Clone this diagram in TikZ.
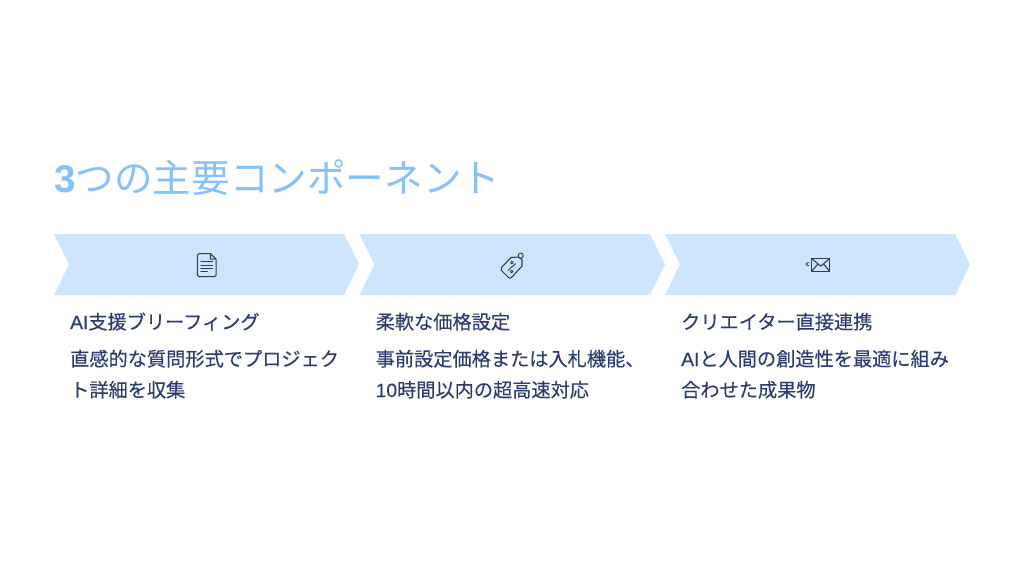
\documentclass[tikz,border=0pt]{standalone}
\usepackage{fontspec}
\setmainfont{Noto Sans CJK JP}[FakeBold=0.12]
\newfontfamily\latinfont{Liberation Sans}[FakeBold=0.3]
\newfontfamily\titlefont{Noto Sans CJK JP}
\newfontfamily\titlelatin{Liberation Sans}[Scale=1.0]
\definecolor{titleblue}{HTML}{85C1FB}
\definecolor{chevfill}{HTML}{CDE5FD}
\definecolor{inkblue}{HTML}{2B3B73}
\tikzset{
  chev/.style={fill=chevfill,draw=none},
  heading/.style={anchor=base west,inner sep=0pt,text=titleblue,font=\titlefont\fontsize{38.6}{38.6}\selectfont},
  bodytext/.style={anchor=base west,inner sep=0pt,text=inkblue,font=\fontsize{19.2}{19.2}\selectfont},
  icon/.style={draw=inkblue,line width=1.05pt,line join=round,line cap=round,fill=none}
}
\begin{document}
\begin{tikzpicture}[x=1pt,y=-1pt]
\useasboundingbox (0,0) rectangle (1024,576);
\fill[white] (0,0) rectangle (1024,576);
\node[heading] (title) at (54,192) {{\titlelatin\bfseries 3}つの主要コンポーネント};
% chevrons
\path[chev] (54,234) -- (344,234) -- (359,264.5) -- (344,295) -- (54,295) -- (69,264.5) -- cycle;
\path[chev] (359.5,234) -- (650,234) -- (665,264.5) -- (650,295) -- (359.5,295) -- (374.5,264.5) -- cycle;
\path[chev] (665,234) -- (955,234) -- (970,264.5) -- (955,295) -- (665,295) -- (680,264.5) -- cycle;
% document icon
\draw[icon] (210.5,253.6) -- (199,253.6) .. controls (198,253.6) and (197.4,254.2) .. (197.4,255.2) -- (197.4,275) .. controls (197.4,276) and (198,276.6) .. (199,276.6) -- (214.5,276.6) .. controls (215.5,276.6) and (216.2,276) .. (216.2,275) -- (216.2,259.2) -- (210.5,253.6) -- (210.5,259.2) -- (216.2,259.2);
\draw[icon,line width=0.9pt] (200.8,261.6) -- (212.6,261.6) (200.8,265) -- (212.6,265) (200.8,268.4) -- (212.6,268.4) (200.8,271.8) -- (207.5,271.8);
% tag icon
\draw[icon] (501.5,267.5) -- (511,257.5) -- (518.5,257) -- (522,259.5) -- (522,266) -- (511.5,277.5) .. controls (510.5,278.5) and (509.5,278.3) .. (508.5,277.5) -- (501.5,270.5) .. controls (500.8,269.5) and (500.8,268.5) .. (501.5,267.5) -- cycle;
\draw[icon,line width=0.9pt] (520.7,255.7) circle (2.6);
\draw[icon,line width=0.9pt] (512,262.5) circle (1.4) (511.6,271.5) circle (1.4) (515.5,263.8) -- (508,270.2);
% envelope icon
\draw[icon] (811.8,258.5) rectangle (829.6,271.3);
\draw[icon] (811.8,258.5) -- (820.7,266.2) -- (829.6,258.5) (811.8,271.3) -- (818,263.8) (829.6,271.3) -- (823.4,263.8);
\draw[icon,line width=0.9pt] (809,262.7) -- (807.4,262.7) .. controls (805.6,262.7) and (805.6,265.5) .. (807.4,265.5) -- (809,265.5);
% texts
\node[bodytext] (h1) at (70,329) {{\latinfont AI}支援ブリーフィング};
\node[bodytext] (b1a) at (70,366) {直感的な質問形式でプロジェク};
\node[bodytext] (b1b) at (70,397) {ト詳細を収集};
\node[bodytext] (h2) at (375.5,329) {柔軟な価格設定};
\node[bodytext] (b2a) at (375.5,366) {事前設定価格または入札機能、};
\node[bodytext] (b2b) at (375.5,397) {{\latinfont 10}時間以内の超高速対応};
\node[bodytext] (h3) at (681,329) {クリエイター直接連携};
\node[bodytext] (b3a) at (681,366) {{\latinfont AI}と人間の創造性を最適に組み};
\node[bodytext] (b3b) at (681,397) {合わせた成果物};
\end{tikzpicture}
\end{document}
